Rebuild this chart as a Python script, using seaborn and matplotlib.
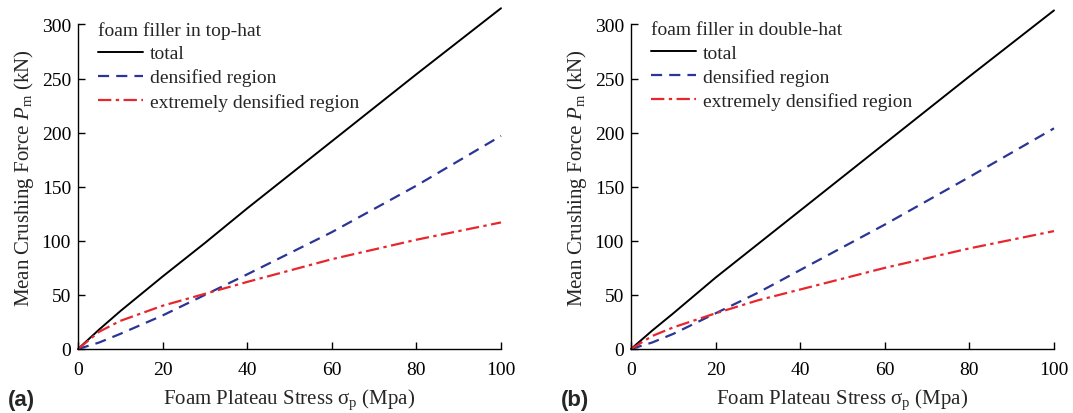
import matplotlib
matplotlib.use("Agg")
import matplotlib.pyplot as plt
import seaborn as sns
import pandas as pd

# ---- data ----
stress = [0, 5, 10, 20, 30, 40, 60, 80, 100]

tophat_total = [0, 18, 35, 67, 98, 130, 192, 254, 315]
tophat_dens = [0, 6, 14, 31, 50, 69, 108, 151, 197]
tophat_extreme = [0, 16, 26, 40, 51, 62, 83, 101, 117]

double_total = [0, 17, 33, 66, 97, 128, 190, 252, 313]
double_dens = [0, 6, 14, 33, 52, 73, 115, 159, 204]
double_extreme = [0, 12, 20, 33, 45, 55, 75, 93, 109]

panel_titles = ["foam filler in top-hat", "foam filler in double-hat"]
panel_tags = ["(a)", "(b)"]
series_names = ["total", "densified region", "extremely densified region"]
x_ticks = [0, 20, 40, 60, 80, 100]
y_ticks = [0, 50, 100, 150, 200, 250, 300]

sns.set_theme(style="ticks")
plt.rcParams["font.family"] = ["Liberation Serif", "DejaVu Serif"]
plt.rcParams["mathtext.fontset"] = "custom"
plt.rcParams["mathtext.rm"] = "Liberation Serif"
plt.rcParams["mathtext.it"] = "Liberation Serif:italic"
plt.rcParams["xtick.labelsize"] = 14
plt.rcParams["ytick.labelsize"] = 14

fig = plt.figure(figsize=(10.73, 4.14), dpi=100)
ax_pos = [[78 / 1073, 64 / 414, 423 / 1073, 344 / 414],
          [631 / 1073, 64 / 414, 423 / 1073, 344 / 414]]

styles = [dict(color="black", linestyle="-", linewidth=1.4),
          dict(color="#2b3596", linestyle=(0, (5, 3.2)), linewidth=1.6),
          dict(color="#e8262d", linestyle=(0, (6, 2, 1.5, 2)), linewidth=1.6)]

datasets = [[tophat_total, tophat_dens, tophat_extreme],
            [double_total, double_dens, double_extreme]]

for i in range(2):
    ax = fig.add_axes(ax_pos[i])
    for name, vals, st in zip(series_names, datasets[i], styles):
        df = pd.DataFrame({"x": stress, "y": vals})
        sns.lineplot(data=df, x="x", y="y", ax=ax, label=name, **st)
    ax.set_xlim(0, 100)
    ax.set_ylim(0, 318)
    ax.set_xticks(x_ticks)
    ax.set_yticks(y_ticks)
    ax.spines["top"].set_visible(False)
    ax.spines["right"].set_visible(False)
    ax.spines["left"].set_bounds(0, 300)
    ax.spines["bottom"].set_bounds(0, 100)
    for s in ["left", "bottom"]:
        ax.spines[s].set_linewidth(1.0)
        ax.spines[s].set_color("black")
    ax.tick_params(direction="in", length=5, width=1.0, labelsize=14,
                   colors="black")
    ax.tick_params(axis="x", pad=9)
    ax.tick_params(axis="y", pad=5)
    for ln in ax.get_lines():
        ln.set_clip_on(False)
    ax.set_xlabel("Foam Plateau Stress σ$_\\mathrm{p}$ (Mpa)", fontsize=15,
                  labelpad=6)
    ax.set_ylabel("Mean Crushing Force $P_\\mathrm{m}$ (kN)", fontsize=15,
                  labelpad=4)
    leg = ax.legend(title=panel_titles[i], loc="upper left", frameon=False,
                    fontsize=14, title_fontsize=14, handlelength=2.3,
                    handletextpad=0.35, labelspacing=0.32,
                    bbox_to_anchor=(0.03, 0.977), borderaxespad=0.0,
                    alignment="left")
    ax.text(-0.165, -0.148, panel_tags[i], transform=ax.transAxes,
            fontsize=16, fontweight="bold", family="Liberation Sans",
            ha="left", va="center")

fig.savefig("out.png", dpi=100)
